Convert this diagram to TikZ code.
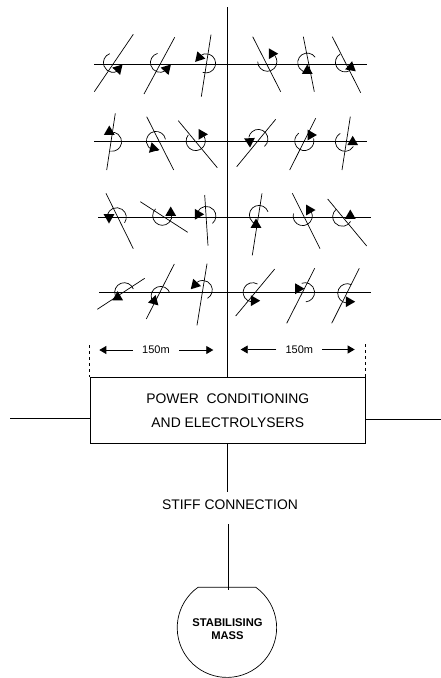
\documentclass[tikz,border=0pt]{standalone}
\usepackage{fontspec}
\setmainfont{Liberation Sans}
\usetikzlibrary{arrows.meta}
\tikzset{
  wire/.style={draw=black, line width=.8pt},
  dimarrow/.style={wire, -{Triangle[length=7pt,width=8pt]}},
  dimlabel/.style={inner sep=0pt, minimum height=12pt, font=\fontsize{11}{13}\selectfont},
  bigtext/.style={font=\fontsize{13.9}{24}\selectfont}
}
\begin{document}
\begin{tikzpicture}[x=1pt,y=-1pt]
    \useasboundingbox (0,0) rectangle (441,678);
    % mast and the four rows
    \draw[wire] (227.6,7) -- (227.6,376.5);
    \draw[wire] (94,64) -- (367,64);
    \draw[wire] (94,141.7) -- (367,141.7);
    \draw[wire] (98,217.3) -- (371,217.3);
    \draw[wire] (99,292) -- (371,292);
    % blade ends / rotor centre, start, end / triangle centre, angle
    \foreach \xa/\ya/\xb/\yb/\cx/\cy/\st/\en/\tx/\ty/\ta in {
      94.3/91.7/133.3/34.3/113/62.7/250/60/118.3/69/73,
      144/94/174.7/37.3/160/62.7/255/60/166.7/69/73,
      201.3/96.7/211/34.7/206/63.3/110/-130/199.3/57.3/12,
      252.7/36.7/280.7/91.7/267.3/61.7/180/-35/272/53.7/0,
      303.3/36.7/314.3/91.7/307.3/62.7/-35/-270/307.3/70.7/-90,
      332.3/36.7/360.7/92.7/345/62.3/240/60/351/67.3/40,
      106.7/170/115.3/113.3/112/141.7/100/-100/109.3/131.7/-90,
      146.7/116.7/173.7/170/156/141/-10/-285/153.3/148.3/14,
      178.3/120.7/217.3/167.7/195.7/141/220/-30/201.7/134.3/0,
      236.7/166.7/275.7/119.3/258.3/139/50/-170/249.7/141.3/87,
      289.7/170/315.7/118.3/304.3/141/235/-15/310.7/135/0,
      342/170/350.3/116.7/345/141.7/240/30/352.7/142/-90,
      106/193.3/133.3/248.7/116.7/217.3/35/-165/109/217.3/90,
      140.3/201.7/187.7/232.3/162.3/215.7/225/-10/170.7/212.7/-90,
      204.7/195/208/245.7/206.3/216/50/-155/198/214.3/0,
      252.3/255.3/262/193.3/259/215/-20/-260/256/224.7/-90,
      292.3/193.3/320/248.7/302.7/216/195/-25/309.3/210/0,
      327.7/199/366.7/246/342.3/216.7/230/30/350.3/215.7/-90,
      97.3/309.3/144.7/278.3/124.3/292.3/-20/-200/117.7/297.3/-90,
      146.3/319/174.3/264/160.7/296/-20/-200/154/301/45,
      197/325.3/207/263.7/202.7/290/60/-130/195/284.7/13,
      235.7/316/274.7/269/252.7/292.3/-60/-285/254/300.7/0,
      286.7/323.3/314.7/268.3/305/292.3/85/-110/298.3/288.7/0,
      331.7/323.3/359.3/268.3/347.3/293.3/-65/-280/349/301.7/0
    }{
      \draw[line width=.7pt] (\xa,\ya) -- (\xb,\yb);
      \draw[line width=.7pt] ([shift={(\st:9.6)}]\cx,\cy) arc[start angle=\st, end angle=\en, radius=9.6];
      \fill ([shift={(\ta:6.2)}]\tx,\ty) -- ([shift={(\ta+120:6.2)}]\tx,\ty) -- ([shift={(\ta+240:6.2)}]\tx,\ty) -- cycle;
    }
    % dimensions
    \node[dimlabel, minimum width=46pt] (dimleft) at (156,350) {150m};
    \node[dimlabel, minimum width=45.3pt] (dimright) at (299.3,349.5) {150m};
    \coordinate (dimlefta) at (99.3,350);
    \coordinate (dimleftb) at (213.3,350);
    \coordinate (dimrighta) at (240.7,349.5);
    \coordinate (dimrightb) at (354.7,349.5);
    \draw[dimarrow] (dimleft.west) -- (dimlefta);
    \draw[dimarrow] (dimleft.east) -- (dimleftb);
    \draw[dimarrow] (dimright.west) -- (dimrighta);
    \draw[dimarrow] (dimright.east) -- (dimrightb);
    % box and what hangs from it
    \node[wire, inner sep=0pt, minimum width=275.7pt, minimum height=66.7pt, align=center, bigtext] (conditioner) at (227.8,410.3) {POWER\ \ CONDITIONING\\AND ELECTROLYSERS};
    \coordinate (dashleft) at (89.5,345);
    \coordinate (dashright) at (365.2,344);
    \draw[line width=.6pt, dashed] (dashleft) -- (dashleft |- conditioner.north);
    \draw[line width=.6pt, dashed] (dashright) -- (dashright |- conditioner.north);
    \coordinate (gridleft) at (10,418.7);
    \coordinate (gridright) at (441,419);
    \draw[wire] (gridleft) -- (gridleft -| conditioner.west);
    \draw[wire] (gridright) -- (gridright -| conditioner.east);
    \node[inner sep=0pt, minimum height=25.4pt, bigtext] (stiff) at (230,505) {STIFF CONNECTION};
    \coordinate (stiffend) at (228.5,524.3);
    \coordinate (masstop) at (228.5,590);
    \draw[wire] (conditioner.south) -- (conditioner.south |- stiff.north);
    \draw[wire] (stiffend) -- (masstop);
    % truncated sphere
    \draw[line width=.7pt] (198,587.3) arc[start angle=234.4, end angle=-54.4, radius=49.7] -- cycle;
    \node[align=center, inner sep=0pt, font=\fontsize{11.2}{13}\selectfont\bfseries] (mass) at (227.5,629.6) {STABILISING\\MASS};
\end{tikzpicture}
\end{document}
